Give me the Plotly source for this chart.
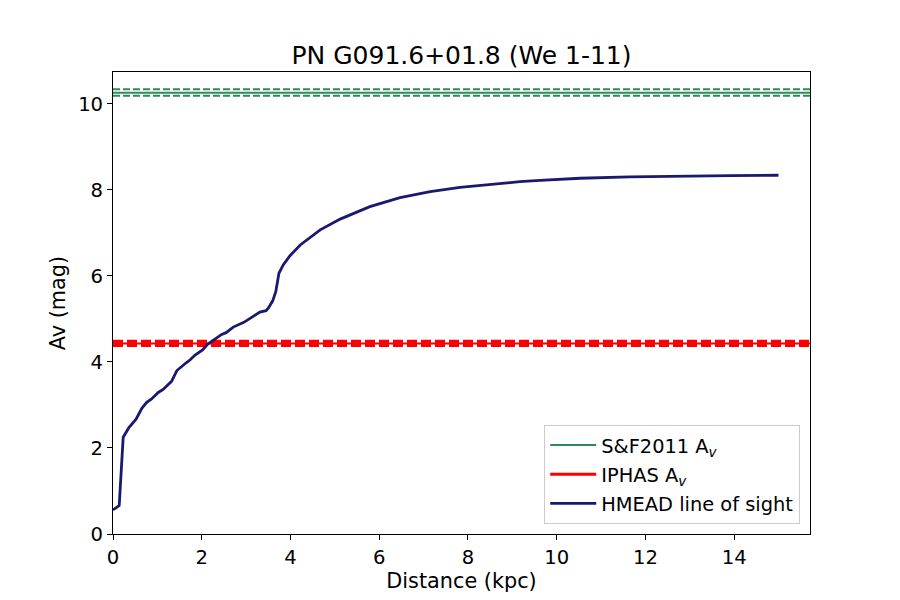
import plotly.graph_objects as go

# HMEAD line of sight (distance kpc, Av mag)
distance = [0.0, 0.14, 0.23, 0.35, 0.52, 0.65, 0.76, 0.87, 1.02, 1.13, 1.32, 1.44, 1.65, 1.74,
            1.85, 2.02, 2.13, 2.30, 2.45, 2.55, 2.71, 2.95, 3.05, 3.16, 3.31, 3.45, 3.50, 3.60,
            3.67, 3.74, 3.84, 3.99, 4.22, 4.67, 5.12, 5.79, 6.47, 7.15, 7.82, 8.50, 9.17, 9.63,
            10.53, 11.65, 12.78, 13.91, 15.0]
av = [0.56, 0.66, 2.25, 2.46, 2.67, 2.92, 3.06, 3.14, 3.29, 3.36, 3.55, 3.80, 3.98, 4.05,
      4.16, 4.28, 4.41, 4.53, 4.64, 4.68, 4.81, 4.92, 4.98, 5.06, 5.16, 5.19, 5.25, 5.42,
      5.64, 6.06, 6.26, 6.47, 6.72, 7.07, 7.32, 7.61, 7.82, 7.96, 8.06, 8.13, 8.19, 8.22,
      8.27, 8.30, 8.32, 8.33, 8.34]

sf2011_av = 10.26
sf2011_err = [10.19, 10.34]
iphas_av = 4.43
iphas_err = [4.39, 4.475]

x_range = [0, 15.71]
y_range = [0, 10.74]
x_ticks = [0, 2, 4, 6, 8, 10, 12, 14]
y_ticks = [0, 2, 4, 6, 8, 10]

GREEN = "#2E8B57"
RED = "#FF0000"
NAVY = "#191970"
FONT = "DejaVu Sans"

fig = go.Figure()

shapes = []
for v in sf2011_err:
    shapes.append(dict(type="line", xref="x domain", yref="y", x0=0, x1=1, y0=v, y1=v,
                       line=dict(color=GREEN, width=2, dash="7px,3px"), layer="below"))
shapes.append(dict(type="line", xref="x domain", yref="y", x0=0, x1=1, y0=sf2011_av, y1=sf2011_av,
                   line=dict(color=GREEN, width=2), layer="below"))
for v in iphas_err:
    shapes.append(dict(type="line", xref="x domain", yref="y", x0=0, x1=1, y0=v, y1=v,
                       line=dict(color=RED, width=3.6, dash="10px,4px"), layer="below"))
shapes.append(dict(type="line", xref="x domain", yref="y", x0=0, x1=1, y0=iphas_av, y1=iphas_av,
                   line=dict(color=RED, width=2), layer="below"))

fig.add_trace(go.Scatter(x=[None], y=[None], mode="lines", line=dict(color=GREEN, width=2),
                         name="S&F2011 A<sub><i>v</i></sub>", legendgroup="g1"))
fig.add_trace(go.Scatter(x=[None], y=[None], mode="lines", line=dict(color=RED, width=3),
                         name="IPHAS A<sub><i>v</i></sub>", legendgroup="g2"))
fig.add_trace(go.Scatter(x=distance, y=av, mode="lines", line=dict(color=NAVY, width=2.8),
                         name="HMEAD line of sight", legendgroup="g3"))

axis_common = dict(showgrid=False, zeroline=False, showline=True, linecolor="black", linewidth=1,
                   mirror=True, ticks="outside", ticklen=5, tickwidth=1, tickcolor="black",
                   tickfont=dict(family=FONT, size=19.6, color="black"))

# the page body adds an 8px offset; margins compensate
fig.update_layout(
    width=900, height=600,
    margin=dict(l=105, r=98, t=64, b=74),
    paper_bgcolor="white", plot_bgcolor="white",
    font=dict(family=FONT, color="black"),
    title=dict(text="PN G091.6+01.8 (We 1-11)", x=(105 + 802) / 2 / 900, xanchor="center",
               y=1 - 47 / 600, yanchor="middle", font=dict(family=FONT, size=25, color="black")),
    xaxis=dict(range=x_range, tickvals=x_ticks,
               title=dict(text="Distance (kpc)", font=dict(family=FONT, size=20.8), standoff=5),
               **axis_common),
    yaxis=dict(range=y_range, tickvals=y_ticks,
               title=dict(text="Av (mag)", font=dict(family=FONT, size=20.8), standoff=6),
               **axis_common),
    shapes=shapes,
    legend=dict(x=0.986, y=0.022, xanchor="right", yanchor="bottom",
                bgcolor="rgba(255,255,255,0.8)", bordercolor="#cccccc", borderwidth=1,
                font=dict(family=FONT, size=19.4, color="black"),
                tracegroupgap=1, itemwidth=46),
)

fig.write_html("out.html")
